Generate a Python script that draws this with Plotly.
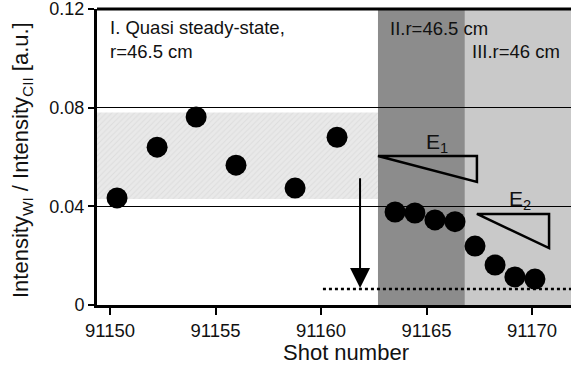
import plotly.graph_objects as go

# ---- data ----
shots = [91150.33, 91152.23, 91154.08, 91155.97, 91158.77, 91160.76,
         91163.51, 91164.45, 91165.40, 91166.35, 91167.30, 91168.25,
         91169.19, 91170.14]
ratios = [0.0434, 0.0640, 0.0762, 0.0567, 0.0474, 0.0680,
          0.0377, 0.0373, 0.0345, 0.0338, 0.0239, 0.0162,
          0.0114, 0.0105]

x_range = [91149.38, 91171.85]
y_range = [0, 0.12]
x_ticks = [91150, 91155, 91160, 91165, 91170]
y_ticks = [0, 0.04, 0.08, 0.12]
y_ticktext = ["0", "0.04", "0.08", "0.12"]

region1_end = 91162.70   # quasi steady-state band ends
region2_end = 91166.82   # region II / III boundary
band_low, band_high = 0.043, 0.078
threshold = 0.0065
arrow_x, arrow_top = 91161.85, 0.052

FONT = "Liberation Sans, Arial, Helvetica, sans-serif"

fig = go.Figure()

# hatched quasi steady-state band
fig.add_trace(go.Scatter(
    x=[x_range[0], region1_end, region1_end, x_range[0], x_range[0]],
    y=[band_low, band_low, band_high, band_high, band_low],
    fill="toself", mode="lines", line=dict(width=0),
    fillcolor="#e9e9e9",
    fillpattern=dict(shape="/", fgcolor="#cfcfcf", bgcolor="#e9e9e9",
                     size=4, solidity=0.25),
    hoverinfo="skip", showlegend=False))

# data points
fig.add_trace(go.Scatter(
    x=shots, y=ratios, mode="markers",
    marker=dict(size=21, color="black"),
    showlegend=False))

shapes = [
    dict(type="rect", xref="x", yref="paper", x0=region1_end, x1=region2_end,
         y0=0, y1=1, fillcolor="#8c8c8c", line=dict(width=0), layer="below"),
    dict(type="rect", xref="x", yref="paper", x0=region2_end, x1=x_range[1],
         y0=0, y1=1, fillcolor="#c9c9c9", line=dict(width=0), layer="below"),
    # top frame line
    dict(type="line", xref="paper", yref="paper", x0=0, x1=1, y0=1, y1=1,
         line=dict(color="black", width=3)),
    # dotted threshold line
    dict(type="line", xref="x", yref="y", x0=91160.09, x1=x_range[1],
         y0=threshold, y1=threshold,
         line=dict(color="black", width=2.5, dash="dot")),
    # E1 triangle
    dict(type="path", xref="x", yref="y",
         path="M 91162.70,0.0604 L 91167.39,0.0604 L 91167.39,0.0499 Z",
         line=dict(color="black", width=2.5)),
    # E2 triangle
    dict(type="path", xref="x", yref="y",
         path="M 91167.39,0.0369 L 91170.81,0.0369 L 91170.81,0.0231 Z",
         line=dict(color="black", width=2.5)),
]

annots = [
    dict(x=91149.90, y=0.1175, xref="x", yref="y", xanchor="left", yanchor="top",
         text="I. Quasi steady-state,<br>r=46.5 cm", align="left",
         showarrow=False, font=dict(size=18.5, color="#111")),
    dict(x=91163.17, y=0.1119, xref="x", yref="y", xanchor="left", yanchor="middle",
         text="II.r=46.5 cm", showarrow=False, font=dict(size=18.5, color="#111")),
    dict(x=91167.06, y=0.1026, xref="x", yref="y", xanchor="left", yanchor="middle",
         text="III.r=46 cm", showarrow=False, font=dict(size=18.5, color="#111")),
    dict(x=91165.5, y=0.0655, xref="x", yref="y", xanchor="center", yanchor="middle",
         text="E<sub>1</sub>", showarrow=False, font=dict(size=21, color="#111")),
    dict(x=91169.43, y=0.0425, xref="x", yref="y", xanchor="center", yanchor="middle",
         text="E<sub>2</sub>", showarrow=False, font=dict(size=21, color="#111")),
    # arrow
    dict(x=arrow_x, y=threshold + 0.0004, ax=arrow_x, ay=arrow_top,
         xref="x", yref="y", axref="x", ayref="y", text="",
         showarrow=True, arrowhead=2, arrowsize=2.0, arrowwidth=2,
         arrowcolor="black", standoff=0),
    # axis titles
    dict(x=(22 - 97) / 474, y=(305 - 160) / 296, xref="paper", yref="paper",
         xanchor="center", yanchor="middle", textangle=-90,
         text="Intensity<sub>WI</sub> / Intensity<sub>CII</sub> [a.u.]",
         showarrow=False, font=dict(size=22, color="#111")),
    dict(x=(346 - 97) / 474, y=(305 - 352) / 296, xref="paper", yref="paper",
         xanchor="center", yanchor="middle", text="Shot number",
         showarrow=False, font=dict(size=22, color="#111")),
]

fig.update_layout(
    width=571, height=366,
    margin=dict(l=97, r=0, t=9, b=61),
    paper_bgcolor="white", plot_bgcolor="white",
    font=dict(family=FONT, color="#111"),
    shapes=shapes, annotations=annots,
    showlegend=False,
)
fig.update_xaxes(
    range=x_range, tickvals=x_ticks, ticktext=[str(t) for t in x_ticks],
    showgrid=False, zeroline=False,
    showline=True, linecolor="black", linewidth=3,
    ticks="outside", ticklen=7, tickwidth=2, tickcolor="black",
    tickfont=dict(size=18.5, color="#111"),
    ticklabeloverflow="allow",
)
fig.update_yaxes(
    range=y_range, tickvals=y_ticks, ticktext=y_ticktext,
    showgrid=True, gridcolor="black", gridwidth=1.2, zeroline=False,
    showline=True, linecolor="black", linewidth=3,
    ticks="outside", ticklen=6, tickwidth=1.5, tickcolor="black",
    tickfont=dict(size=18, color="#111"),
    ticklabeloverflow="allow",
)

fig.write_html("out.html")
